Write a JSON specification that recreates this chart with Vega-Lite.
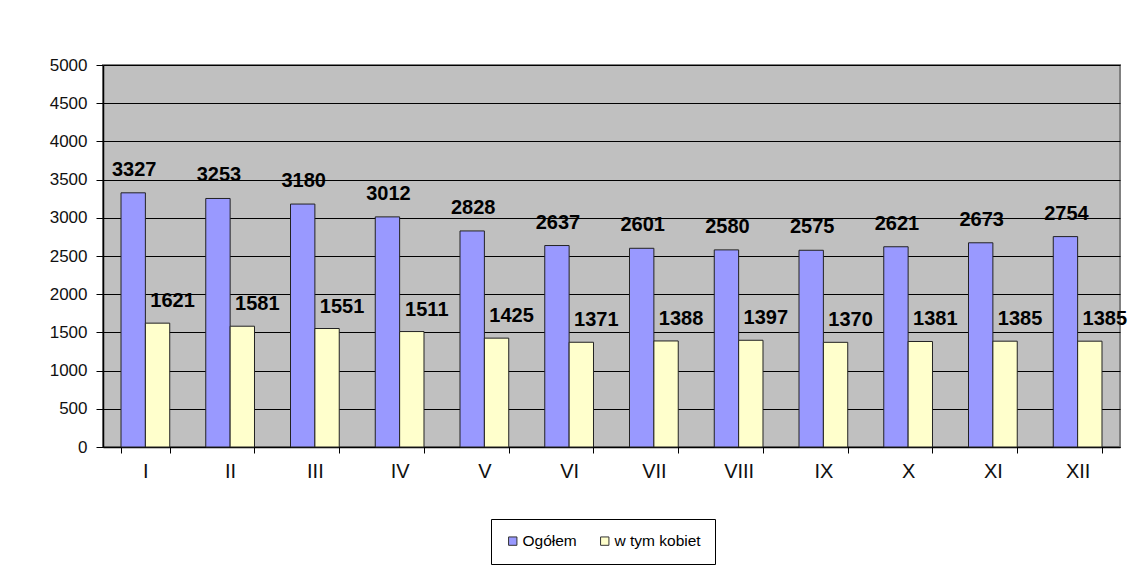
{
  "$schema": "https://vega.github.io/schema/vega-lite/v6.json",
  "width": 1017,
  "height": 382,
  "autosize": {"type": "none"},
  "padding": {"left": 103, "top": 65, "right": 16, "bottom": 127},
  "background": "white",
  "config": {
    "font": "Liberation Sans",
    "view": {"fill": "#C0C0C0", "stroke": "#808080", "strokeWidth": 2}
  },
  "data": {
    "values": [
      {"month": "I", "series": "Ogółem", "value": 3327},
      {"month": "II", "series": "Ogółem", "value": 3253},
      {"month": "III", "series": "Ogółem", "value": 3180},
      {"month": "IV", "series": "Ogółem", "value": 3012},
      {"month": "V", "series": "Ogółem", "value": 2828},
      {"month": "VI", "series": "Ogółem", "value": 2637},
      {"month": "VII", "series": "Ogółem", "value": 2601},
      {"month": "VIII", "series": "Ogółem", "value": 2580},
      {"month": "IX", "series": "Ogółem", "value": 2575},
      {"month": "X", "series": "Ogółem", "value": 2621},
      {"month": "XI", "series": "Ogółem", "value": 2673},
      {"month": "XII", "series": "Ogółem", "value": 2754},
      {"month": "I", "series": "w tym kobiet", "value": 1621},
      {"month": "II", "series": "w tym kobiet", "value": 1581},
      {"month": "III", "series": "w tym kobiet", "value": 1551},
      {"month": "IV", "series": "w tym kobiet", "value": 1511},
      {"month": "V", "series": "w tym kobiet", "value": 1425},
      {"month": "VI", "series": "w tym kobiet", "value": 1371},
      {"month": "VII", "series": "w tym kobiet", "value": 1388},
      {"month": "VIII", "series": "w tym kobiet", "value": 1397},
      {"month": "IX", "series": "w tym kobiet", "value": 1370},
      {"month": "X", "series": "w tym kobiet", "value": 1381},
      {"month": "XI", "series": "w tym kobiet", "value": 1385},
      {"month": "XII", "series": "w tym kobiet", "value": 1385}
    ]
  },
  "encoding": {
    "x": {
      "field": "month",
      "type": "nominal",
      "sort": null,
      "scale": {"paddingInner": 0.425, "paddingOuter": 0.2125},
      "axis": {
        "title": null,
        "labelAngle": 0,
        "labelFont": "Liberation Sans",
        "labelFontSize": 20,
        "labelColor": "#111111",
        "labelPadding": 8,
        "tickBand": "extent",
        "tickSize": 6,
        "tickColor": "#000000",
        "domainColor": "#000000",
        "domainWidth": 1.5,
        "grid": false
      }
    },
    "xOffset": {
      "field": "series",
      "type": "nominal",
      "sort": ["Ogółem", "w tym kobiet"],
      "scale": {"paddingInner": 0, "paddingOuter": 0}
    },
    "y": {
      "field": "value",
      "type": "quantitative",
      "scale": {"domain": [0, 5000], "nice": false},
      "axis": {
        "title": null,
        "format": "d",
        "values": [0, 500, 1000, 1500, 2000, 2500, 3000, 3500, 4000, 4500, 5000],
        "labelFont": "Liberation Sans",
        "labelFontSize": 17,
        "labelColor": "#111111",
        "labelPadding": 9,
        "tickSize": 7,
        "tickColor": "#000000",
        "domainColor": "#000000",
        "domainWidth": 1.5,
        "grid": true,
        "gridColor": "#000000",
        "gridWidth": 1,
        "gridOpacity": 1
      }
    }
  },
  "layer": [
    {
      "mark": {"type": "bar", "stroke": "#222222", "strokeWidth": 1},
      "encoding": {
        "color": {
          "field": "series",
          "type": "nominal",
          "sort": ["Ogółem", "w tym kobiet"],
          "scale": {"domain": ["Ogółem", "w tym kobiet"], "range": ["#9999FF", "#FFFFCC"]},
          "legend": {
            "title": null,
            "orient": "none",
            "legendX": 388,
            "legendY": 454,
            "direction": "horizontal",
            "symbolType": "square",
            "symbolSize": 70,
            "symbolStrokeColor": "#333333",
            "symbolStrokeWidth": 1,
            "labelFont": "Liberation Sans",
            "labelFontSize": 15.5,
            "labelColor": "#000000",
            "labelOffset": 2,
            "columnPadding": 20,
            "padding": 14,
            "strokeColor": "#000000",
            "fillColor": "#FFFFFF"
          }
        }
      }
    },
    {
      "transform": [{"filter": "datum.series === 'Ogółem'"}],
      "mark": {"type": "text", "font": "Liberation Sans", "fontSize": 20, "fontWeight": "bold", "baseline": "middle", "align": "center", "dy": -23, "dx": 1, "color": "#000000"},
      "encoding": {"text": {"field": "value", "type": "quantitative", "format": "d"}}
    },
    {
      "transform": [{"filter": "datum.series === 'w tym kobiet'"}],
      "mark": {"type": "text", "font": "Liberation Sans", "fontSize": 20, "fontWeight": "bold", "baseline": "middle", "align": "center", "dy": -22, "dx": 15, "color": "#000000"},
      "encoding": {"text": {"field": "value", "type": "quantitative", "format": "d"}}
    }
  ]
}
